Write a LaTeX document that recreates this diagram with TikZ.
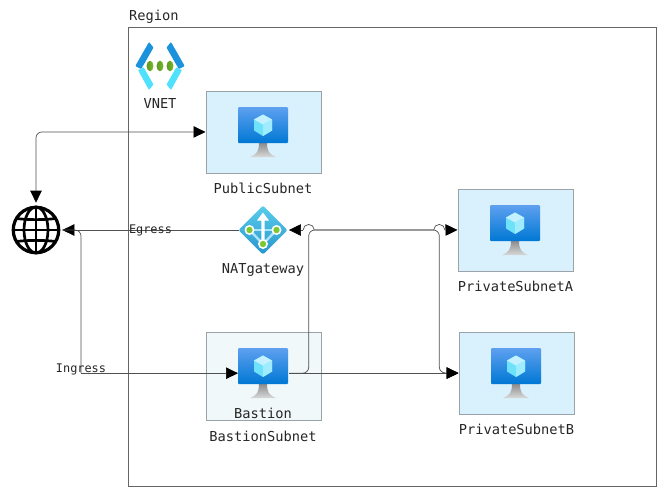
\documentclass[tikz,border=0pt]{standalone}
\usepackage{fontspec}
\setmonofont{DejaVu Sans Mono}
\usetikzlibrary{arrows.meta,calc}
\definecolor{subnetfill}{HTML}{D9F0FD}
\definecolor{bastionfill}{HTML}{F0F8F9}
\definecolor{boxline}{HTML}{9AA3A8}
\definecolor{linegrey}{HTML}{505050}
\tikzset{
  x=1pt,y=-1pt,
  subnetbox/.style={draw=boxline,line width=.9pt,fill=subnetfill,minimum width=115pt,minimum height=82pt,inner sep=0pt,anchor=north west},
  iconbox/.style={minimum width=50pt,minimum height=50pt,inner sep=0pt,anchor=north west},
  lbl/.style={font=\ttfamily\fontsize{13.7}{15}\selectfont,inner sep=0pt,text=black!85},
  smalllbl/.style={font=\ttfamily\fontsize{11.9}{14}\selectfont,inner sep=0pt,text=black!85},
  wire/.style={draw=linegrey,line width=.7pt,rounded corners=6pt},
  tip/.style={-{Triangle[length=12pt,width=11.5pt,color=black]}},
  tiprev/.style={{Triangle[length=12pt,width=11.5pt,color=black]}-},
  tips/.style={{Triangle[length=12pt,width=11.5pt,color=black]}-{Triangle[length=12pt,width=11.5pt,color=black]}},
  pics/vm/.style={code={
    \shade[top color=black!45,bottom color=black!15]
      (21,36) -- (29,36) .. controls (29,44) and (31,47) .. (38,50) -- (12,50) .. controls (19,47) and (21,44) .. (21,36) -- cycle;
    \shade[rounded corners=1pt,top color={rgb,255:red,94;green,160;blue,239},bottom color={rgb,255:red,0;green,120;blue,212}]
      (0,0) rectangle (50,36);
    \fill[fill={rgb,255:red,110;green,226;blue,250}] (25,7.5) -- (34,12.5) -- (34,23.5) -- (25,29) -- (16,23.5) -- (16,12.5) -- cycle;
    \fill[fill={rgb,255:red,195;green,241;blue,255}] (25,7.5) -- (34,12.5) -- (25,17.5) -- (16,12.5) -- cycle;
    \fill[fill={rgb,255:red,160;green,236;blue,255}] (25,17.5) -- (34,12.5) -- (34,23.5) -- (25,29) -- cycle;
  }},
}
\begin{document}
\begin{tikzpicture}
\useasboundingbox (0,0) rectangle (667,499);
% region
\node[draw=black!60,line width=.8pt,minimum width=527.5pt,minimum height=459pt,inner sep=0pt,anchor=north west] (region) at (128,27) {};
\node[lbl,anchor=west] (regionlabel) at (129,16.5) {Region};

% subnets
\node[subnetbox] (pub) at (205.5,90.5) {};
\node[subnetbox] (pria) at (457.5,188.5) {};
\node[subnetbox] (prib) at (458.5,331.5) {};
\node[subnetbox,fill=bastionfill,minimum height=88pt] (bassub) at (205.5,332) {};

% VM icons
\node[iconbox] (pubvm) at (238,107) {};
\node[iconbox] (priavm) at (490,205) {};
\node[iconbox] (pribvm) at (491,348) {};
\node[iconbox,minimum width=51pt] (basvm) at (238,348) {};
\pic at (238,107) {vm};
\pic at (490,205) {vm};
\pic at (491,348) {vm};
\pic at (238,348) {vm};

% VNET icon
\coordinate (vn) at (160,66);
\begin{scope}[shift={(vn)}]
  \fill[fill={rgb,255:red,27;green,147;blue,220},rounded corners=.8pt] (-24.7,0) -- (-11,-24) -- (-6.5,-18.5) -- (-16.5,-1) -- (-19,3) -- cycle;
  \fill[fill={rgb,255:red,80;green,225;blue,255},rounded corners=.8pt] (-19.5,3) -- (-16.5,1) -- (-6.5,18.5) -- (-11,24) -- (-22,4) -- cycle;
  \fill[fill={rgb,255:red,27;green,147;blue,220},rounded corners=.8pt] (24.7,0) -- (11,-24) -- (6.5,-18.5) -- (16.5,-1) -- (19,3) -- cycle;
  \fill[fill={rgb,255:red,80;green,225;blue,255},rounded corners=.8pt] (19.5,3) -- (16.5,1) -- (6.5,18.5) -- (11,24) -- (22,4) -- cycle;
  \foreach \d in {-10,0,10}
    \shade[left color={rgb,255:red,94;green,150;blue,36},right color={rgb,255:red,118;green,188;blue,45}] (\d,0) ellipse [x radius=3.4,y radius=5.3];
\end{scope}
\node[lbl] (vnetlabel) at (160,104) {VNET};

% NAT icon
\node[minimum width=48.5pt,minimum height=48.5pt,inner sep=0pt] (nat) at (263,230) {};
\shade[top color={rgb,255:red,90;green,205;blue,235},bottom color={rgb,255:red,40;green,150;blue,205},rounded corners=2pt]
  (263,205.5) -- (287.5,230) -- (263,254.5) -- (238.5,230) -- cycle;
\draw[line width=2.4pt,draw={rgb,255:red,170;green,228;blue,250}] (249.5,230) -- (276.5,230);
\draw[line width=2.4pt,draw={rgb,255:red,170;green,228;blue,250}] (249.5,230) -- (263,244) -- (276.5,230);
\fill[white] (261.3,244) -- (261.3,220.5) -- (257,220.5) -- (263,212.5) -- (269,220.5) -- (264.7,220.5) -- (264.7,244) -- cycle;
\foreach \p in {(249.5,230),(276.5,230),(263,244)}{
  \fill[white] \p circle (5);
  \fill[fill={rgb,255:red,125;green,200;blue,50}] \p circle (3.2);
}
\node[lbl] (natlabel) at (263,270) {NATgateway};

% globe
\node[circle,draw=black,line width=3.2pt,minimum size=45.5pt,inner sep=0pt] (net) at (36,230) {};
\begin{scope}[line width=2.7pt,draw=black]
  \draw (net.north) -- (net.south);
  \draw (net.west) -- (net.east);
  \draw (36,230) ellipse [x radius=12,y radius=23];
  \draw (16.5,218.5) .. controls (28,220) and (44,220) .. (55.5,218.5);
  \draw (16.5,241.5) .. controls (28,240) and (44,240) .. (55.5,241.5);
\end{scope}

% labels
\node[lbl] (publabel) at (263,188) {PublicSubnet};
\node[lbl] (prialabel) at (515.5,286) {PrivateSubnetA};
\node[lbl] (priblabel) at (516.5,429) {PrivateSubnetB};
\node[lbl] (baslabel) at (263,413) {Bastion};
\node[lbl] (bassublabel) at (263,436) {BastionSubnet};

% route points
\coordinate (netn) at ($(net.north)+(0,-3)$);
\coordinate (nete) at ($(net.east)+(2,0)$);
\coordinate (nate) at ($(nat.east)+(1.5,0)$);
\draw[tips,wire] (pub.west) -- (pub.west -| net) -- (netn);
% egress
\draw[tip,wire] (nat.west) -- (nete);
% ingress
\coordinate (ing) at (81,230);
\draw[tip,wire] (ing |- basvm.west) -- (basvm.west);
\draw[wire] (nete) -- (ing) -- (ing |- basvm.west);
% NAT to subnet B, hopping over the bastion riser
\coordinate (riser) at (308.7,230);
\coordinate (drop) at (439.3,230);
\coordinate (hopa) at ($(riser)+(-5.6,0)$);
\coordinate (hopb) at ($(riser)+(5.6,0)$);
\coordinate (hopc) at ($(drop)+(-5.6,0)$);
\coordinate (hopd) at ($(drop)+(5.6,0)$);
\draw[tiprev,draw=linegrey,line width=.7pt] (nate) -- (hopa);
\draw[draw=linegrey,line width=.7pt] (hopa) arc[start angle=180,end angle=0,radius=5.6pt];
\draw[tip,wire] (hopb) -- (drop) -- (drop |- prib.west) -- (prib.west);
% bastion to subnet A, hopping over the drop
\draw[wire] (basvm.east) -- (basvm.east -| riser) -- (riser) -- (hopc);
\draw[draw=linegrey,line width=.7pt] (hopc) arc[start angle=180,end angle=0,radius=5.6pt];
\draw[tip,draw=linegrey,line width=.7pt] (hopd) -- (pria.west);
% bastion to subnet B
\draw[tip,wire] (basvm.east) -- (basvm.east -| prib.west);

% link labels
\node[smalllbl] (egress) at (150.5,230) {Egress};
\node[smalllbl] (ingress) at (81,369.5) {Ingress};
\end{tikzpicture}
\end{document}
